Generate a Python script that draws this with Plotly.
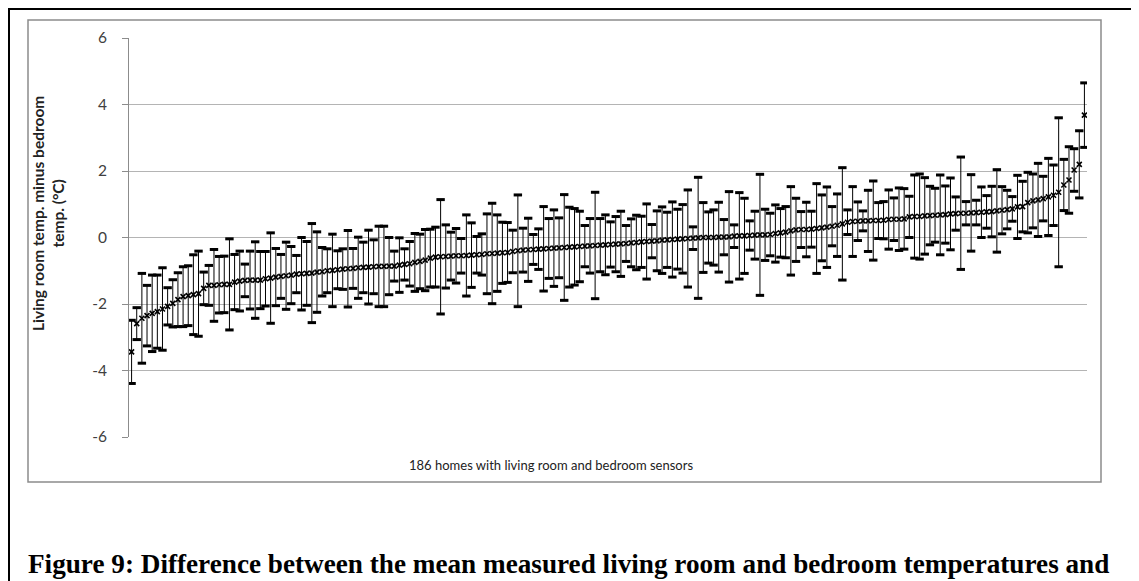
import plotly.graph_objects as go

# mean living room minus bedroom temperature per home (sorted), deg C
mean_diff = [
    -3.44, -2.59, -2.43, -2.35, -2.28, -2.23, -2.15, -2.07, -1.98, -1.87,
    -1.78, -1.75, -1.72, -1.69, -1.53, -1.44, -1.44, -1.42, -1.41, -1.41,
    -1.34, -1.31, -1.29, -1.28, -1.28, -1.28, -1.24, -1.22, -1.19, -1.17,
    -1.15, -1.13, -1.10, -1.09, -1.08, -1.07, -1.04, -1.03, -1.00, -0.99,
    -0.97, -0.95, -0.94, -0.93, -0.91, -0.90, -0.89, -0.88, -0.87, -0.87,
    -0.86, -0.86, -0.83, -0.81, -0.79, -0.75, -0.72, -0.68, -0.62, -0.59,
    -0.58, -0.57, -0.56, -0.55, -0.55, -0.54, -0.53, -0.52, -0.51, -0.49,
    -0.48, -0.47, -0.46, -0.45, -0.42, -0.40, -0.38, -0.37, -0.36, -0.35,
    -0.34, -0.33, -0.32, -0.31, -0.30, -0.29, -0.28, -0.27, -0.26, -0.25,
    -0.24, -0.23, -0.22, -0.21, -0.20, -0.19, -0.18, -0.16, -0.15, -0.13,
    -0.12, -0.11, -0.10, -0.08, -0.07, -0.06, -0.05, -0.04, -0.03, -0.02,
    -0.01, 0.00, 0.00, 0.00, 0.01, 0.01, 0.02, 0.04, 0.05, 0.05,
    0.06, 0.07, 0.08, 0.08, 0.09, 0.12, 0.14, 0.16, 0.20, 0.23,
    0.24, 0.24, 0.25, 0.27, 0.29, 0.31, 0.34, 0.37, 0.41, 0.46,
    0.48, 0.49, 0.50, 0.50, 0.51, 0.51, 0.52, 0.54, 0.55, 0.55,
    0.56, 0.62, 0.63, 0.63, 0.65, 0.66, 0.67, 0.68, 0.69, 0.71,
    0.72, 0.73, 0.73, 0.74, 0.75, 0.76, 0.77, 0.78, 0.80, 0.82,
    0.84, 0.86, 0.92, 0.93, 1.05, 1.10, 1.13, 1.17, 1.22, 1.27,
    1.36, 1.58, 1.73, 2.03, 2.20, 3.68,
]

# half length of each error bar, deg C
err_half = [
    0.95, 0.48, 1.35, 0.91, 1.15, 1.10, 1.24, 0.56, 0.71, 0.81,
    0.90, 0.90, 1.20, 1.28, 0.49, 0.60, 1.08, 0.85, 0.85, 1.37,
    0.83, 0.90, 0.49, 0.87, 1.15, 0.86, 0.82, 1.36, 0.86, 0.66,
    1.01, 0.86, 0.56, 1.09, 0.96, 1.49, 1.21, 0.73, 0.66, 1.09,
    0.57, 0.61, 1.15, 0.60, 0.92, 0.76, 1.11, 0.81, 1.21, 1.21,
    0.86, 0.45, 0.82, 0.47, 0.67, 0.87, 0.82, 0.92, 0.87, 0.90,
    1.72, 0.95, 0.72, 0.82, 0.52, 1.22, 0.97, 0.55, 0.62, 1.20,
    1.51, 1.15, 0.92, 0.90, 0.64, 1.68, 0.66, 0.95, 0.45, 0.61,
    1.27, 0.90, 1.15, 0.90, 1.59, 1.20, 1.15, 1.06, 0.62, 0.82,
    1.60, 0.80, 0.90, 0.68, 0.83, 0.98, 0.54, 0.72, 0.82, 0.77,
    1.13, 0.50, 0.90, 1.00, 0.83, 1.13, 0.90, 1.03, 1.46, 0.34,
    1.82, 1.05, 0.77, 0.83, 1.05, 0.53, 1.36, 0.34, 1.30, 1.13,
    0.44, 0.72, 1.82, 0.77, 0.64, 0.86, 0.73, 0.77, 1.33, 0.95,
    0.54, 0.82, 0.54, 1.35, 0.99, 1.21, 0.59, 0.94, 1.69, 0.37,
    1.05, 0.58, 0.30, 0.92, 1.19, 0.54, 0.56, 0.89, 0.64, 0.94,
    0.91, 0.62, 1.25, 1.28, 1.15, 0.88, 0.81, 1.20, 0.86, 1.08,
    0.50, 1.69, 0.35, 1.15, 0.37, 0.76, 0.49, 0.76, 1.24, 0.71,
    0.58, 0.37, 0.95, 0.76, 0.91, 0.81, 1.10, 0.67, 1.16, 0.91,
    2.24, 0.77, 1.00, 0.64, 1.01, 0.97,
]

y_ticks = [-6, -4, -2, 0, 2, 4, 6]
y_tick_text = ["-6", "-4", "-2", "0", "2", "4", "6"]

homes = list(range(1, len(mean_diff) + 1))
upper = [m + e for m, e in zip(mean_diff, err_half)]
lower = [m - e for m, e in zip(mean_diff, err_half)]

# page body adds an 8px margin, so the figure is 8px smaller than the window
OFF = 8
W, H = 1139 - OFF, 581 - OFF
# plot area in screen pixels
L, R, T, B = 129, 1087, 38, 437


def px_x(x):
    return (x - L) / (R - L)


def px_y(y):
    return (B - y) / (B - T)


fig = go.Figure()

fig.add_trace(
    go.Scatter(
        x=homes,
        y=mean_diff,
        mode="markers",
        marker=dict(symbol="x-thin", size=5, line=dict(color="black", width=1.6)),
        error_y=dict(
            type="data",
            array=err_half,
            symmetric=True,
            color="black",
            thickness=1,
            width=0,
        ),
        showlegend=False,
    )
)

# heavy end caps of the error bars
fig.add_trace(
    go.Scatter(
        x=homes + homes,
        y=upper + lower,
        mode="markers",
        marker=dict(symbol="line-ew", size=6, line=dict(color="black", width=3)),
        showlegend=False,
        hoverinfo="skip",
    )
)

fig.update_xaxes(
    range=[0.5, len(homes) + 0.5],
    showgrid=False,
    zeroline=False,
    showticklabels=False,
    showline=False,
)

fig.update_yaxes(
    range=[-6, 6],
    tickvals=y_ticks,
    ticktext=y_tick_text,
    tickangle=0,
    showgrid=True,
    gridcolor="#b4b4b4",
    gridwidth=1,
    zeroline=False,
    showline=True,
    linecolor="#8c8c8c",
    linewidth=1,
    ticks="outside",
    ticklen=6,
    tickcolor="#8c8c8c",
    ticklabelstandoff=12,
    tickfont=dict(family="Lato", size=15.5, color="#404040"),
)

fig.add_annotation(
    text="<b>Living room temp. minus bedroom<br>temp. (°C)</b>",
    xref="paper", yref="paper",
    x=px_x(48), y=px_y(214),
    xanchor="center", yanchor="middle",
    textangle=-90, showarrow=False,
    font=dict(family="Lato", size=15.5, color="#222222"),
)

fig.add_annotation(
    text="186 homes with living room and bedroom sensors",
    xref="paper", yref="paper",
    x=px_x(551), y=px_y(465),
    xanchor="center", yanchor="middle",
    showarrow=False,
    font=dict(family="Lato", size=13, color="#222222"),
)

fig.add_annotation(
    text="<b>Figure 9: Difference between the mean measured living room and bedroom temperatures and</b>",
    xref="paper", yref="paper",
    x=px_x(26), y=px_y(581),
    xanchor="left", yanchor="bottom",
    showarrow=False,
    font=dict(family="Liberation Serif", size=27.2, color="black"),
)

# inner chart frame and outer page frame
fig.add_shape(
    type="rect", xref="paper", yref="paper",
    x0=px_x(28), x1=px_x(1101), y0=px_y(482), y1=px_y(20),
    line=dict(color="#8c8c8c", width=1.5),
)
fig.add_shape(
    type="rect", xref="paper", yref="paper",
    x0=px_x(OFF + 1), x1=px_x(1133), y0=px_y(620), y1=px_y(OFF + 1),
    line=dict(color="black", width=2),
)

fig.update_layout(
    width=W,
    height=H,
    margin=dict(l=L - OFF, r=W - (R - OFF), t=T - OFF, b=H - (B - OFF), autoexpand=False),
    plot_bgcolor="white",
    paper_bgcolor="white",
)

fig.write_html("out.html")
